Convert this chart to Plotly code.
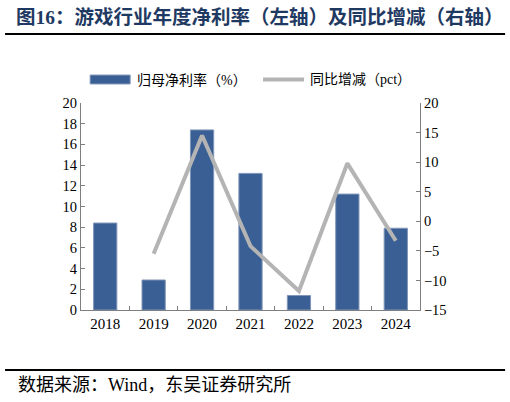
import plotly.graph_objects as go

# 游戏行业年度净利率及同比增减
years = ["2018", "2019", "2020", "2021", "2022", "2023", "2024"]
net_margin = [8.4, 2.9, 17.4, 13.2, 1.4, 11.2, 7.9]
yoy_change = [None, -5.5, 14.5, -4.2, -11.8, 9.8, -3.3]

bar_name = "归母净利率（%）"
line_name = "同比增减（pct）"
title_text = "<b>图16：游戏行业年度净利率（左轴）及同比增减（右轴）</b>"
source_text = "数据来源：Wind，东吴证券研究所"

FONT = "Liberation Serif, Noto Sans CJK SC, serif"
BAR_COLOR = "#3A5F94"
LINE_COLOR = "#B4B4B4"
AXIS_COLOR = "#7F7F7F"

fig = go.Figure()
fig.add_trace(go.Bar(
    x=years, y=net_margin, name=bar_name, width=0.48,
    marker=dict(color=BAR_COLOR, line=dict(color="#8096B8", width=1)),
))
fig.add_trace(go.Scatter(
    x=years, y=yoy_change, name=line_name, yaxis="y2", mode="lines",
    line=dict(color=LINE_COLOR, width=4), connectgaps=False,
))

fig.update_layout(
    width=510, height=402,
    margin=dict(l=81, r=90, t=103, b=92),
    paper_bgcolor="white", plot_bgcolor="white",
    font=dict(family=FONT, size=14, color="black"),
    showlegend=False,
    title=dict(text=title_text, x=16 / 510, y=1 - 17 / 402, xanchor="left", yanchor="middle",
               font=dict(family=FONT, size=19.5, color="#1F3A62")),
    xaxis=dict(showline=True, linecolor=AXIS_COLOR, linewidth=1, ticks="inside",
               tickson="boundaries", ticklen=4, tickcolor=AXIS_COLOR, showgrid=False,
               range=[-0.5, 6.5], tickfont=dict(size=15)),
    yaxis=dict(range=[0, 20], dtick=2, showline=True, linecolor=AXIS_COLOR, linewidth=1,
               ticks="inside", ticklen=4, tickcolor=AXIS_COLOR, showgrid=False,
               zeroline=False, tickfont=dict(size=14.5)),
    yaxis2=dict(range=[-15, 20], dtick=5, overlaying="y", side="right", showline=True,
                linecolor=AXIS_COLOR, linewidth=1, ticks="inside", ticklen=4,
                tickcolor=AXIS_COLOR, showgrid=False, zeroline=False, tickfont=dict(size=14.5)),
)

# 标题下方与来源上方的横线
fig.add_shape(type="line", xref="paper", yref="paper", x0=-0.224, x1=1.251, y0=1.333, y1=1.333,
              line=dict(color="black", width=2))
fig.add_shape(type="line", xref="paper", yref="paper", x0=-0.224, x1=1.251, y0=-0.29, y1=-0.29,
              line=dict(color="black", width=2))

# 图例
fig.add_shape(type="rect", xref="paper", yref="paper", x0=0.027, x1=0.145, y0=1.092, y1=1.135,
              fillcolor=BAR_COLOR, line=dict(color="#8096B8", width=1))
fig.add_annotation(text=bar_name, xref="paper", yref="paper", x=0.158, y=1.113,
                   xanchor="left", yanchor="middle", showarrow=False, font=dict(size=14))
fig.add_shape(type="line", xref="paper", yref="paper", x0=0.537, x1=0.658, y0=1.113, y1=1.113,
              line=dict(color=LINE_COLOR, width=4))
fig.add_annotation(text=line_name, xref="paper", yref="paper", x=0.67, y=1.113,
                   xanchor="left", yanchor="middle", showarrow=False, font=dict(size=14))

# 数据来源
fig.add_annotation(text=source_text, xref="paper", yref="paper", x=-0.192, y=-0.362,
                   xanchor="left", yanchor="middle", showarrow=False, font=dict(size=18))

fig.write_html("out.html", config={"displayModeBar": False},
               post_script="document.body.style.margin='0';")
